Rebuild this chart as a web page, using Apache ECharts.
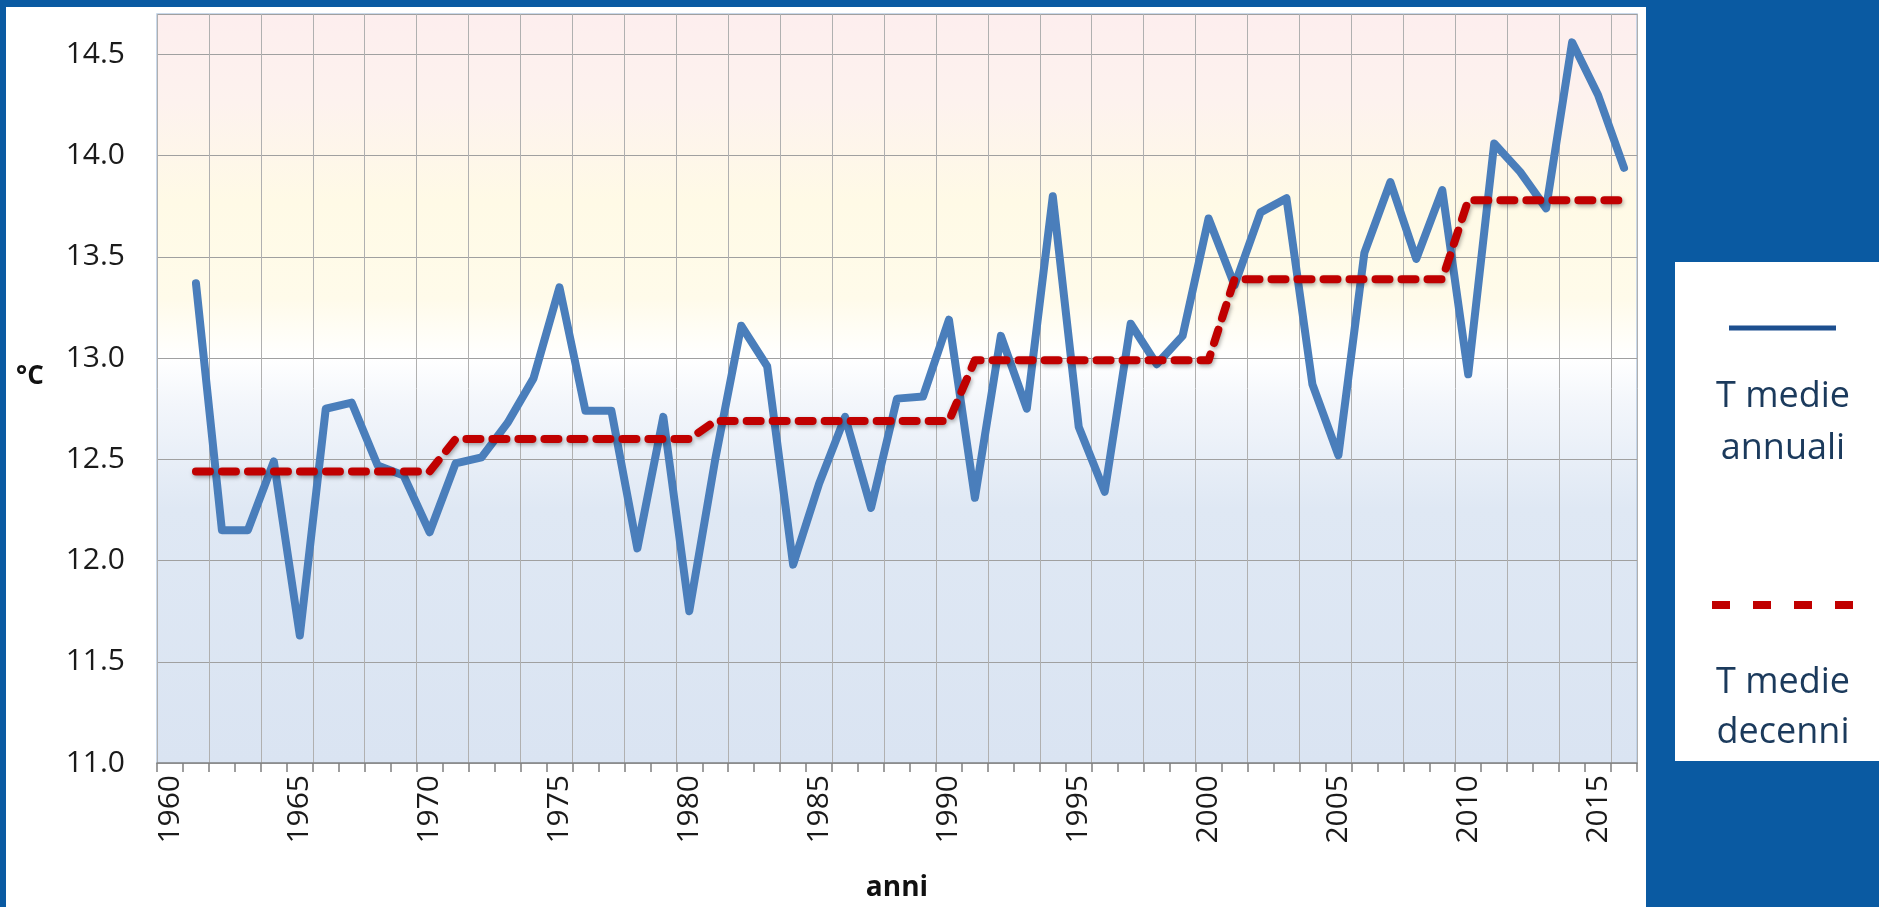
<!DOCTYPE html>
<html>
<head>
<meta charset="utf-8">
<script src="https://cdn.jsdelivr.net/npm/echarts@6/dist/echarts.min.js"></script>
<style>
  html, body { margin: 0; padding: 0; background: #0a5aa2; }
  #chart { width: 1879px; height: 907px; }
</style>
</head>
<body>
<div id="chart"></div>
<script>
// ---- data ----
const years = ['1960','1961','1962','1963','1964','1965','1966','1967','1968','1969',
  '1970','1971','1972','1973','1974','1975','1976','1977','1978','1979',
  '1980','1981','1982','1983','1984','1985','1986','1987','1988','1989',
  '1990','1991','1992','1993','1994','1995','1996','1997','1998','1999',
  '2000','2001','2002','2003','2004','2005','2006','2007','2008','2009',
  '2010','2011','2012','2013','2014','2015','2016'];

const annualMeans = [null,
  13.37, 12.15, 12.15, 12.49, 11.63, 12.75, 12.78, 12.47, 12.42, 12.14,
  12.48, 12.51, 12.68, 12.90, 13.35, 12.74, 12.74, 12.06, 12.71, 11.75,
  12.50, 13.16, 12.96, 11.98, 12.38, 12.71, 12.26, 12.80, 12.81, 13.19,
  12.31, 13.11, 12.75, 13.80, 12.66, 12.34, 13.17, 12.97, 13.11, 13.69,
  13.36, 13.72, 13.79, 12.87, 12.52, 13.52, 13.87, 13.49, 13.83, 12.92,
  14.06, 13.92, 13.74, 14.56, 14.30, 13.94];

const decadeMeans = [null,
  12.44, 12.44, 12.44, 12.44, 12.44, 12.44, 12.44, 12.44, 12.44, 12.44,
  12.60, 12.60, 12.60, 12.60, 12.60, 12.60, 12.60, 12.60, 12.60, 12.60,
  12.69, 12.69, 12.69, 12.69, 12.69, 12.69, 12.69, 12.69, 12.69, 12.69,
  12.99, 12.99, 12.99, 12.99, 12.99, 12.99, 12.99, 12.99, 12.99, 12.99,
  13.39, 13.39, 13.39, 13.39, 13.39, 13.39, 13.39, 13.39, 13.39,
  13.78, 13.78, 13.78, 13.78, 13.78, 13.78, 13.78];

const yTicks = { min: 11.0, max: 14.7, step: 0.5 };
const legendLabels = [['T medie', 'annuali'], ['T medie', 'decenni']];

// ---- chart ----
const chart = echarts.init(document.getElementById('chart'), null, { renderer: 'canvas' });
const FONT = "'Open Sans', 'Noto Sans', sans-serif";

const option = {
  animation: false,
  backgroundColor: '#0a5aa2',
  graphic: [
    { type: 'rect', z: -10, silent: true,
      shape: { x: 6, y: 7, width: 1640, height: 910 },
      style: { fill: '#ffffff' } },
    { type: 'text', left: 16, top: 364,
      style: { text: '°C', font: "bold 26px " + FONT, fill: '#111111' } },
    // legend box
    { type: 'rect', silent: true,
      shape: { x: 1675, y: 262, width: 215, height: 499 },
      style: { fill: '#ffffff' } },
    { type: 'line', shape: { x1: 1729, y1: 328, x2: 1836, y2: 328 },
      style: { stroke: '#1d4f8f', lineWidth: 5 } },
    { type: 'text', x: 1783, y: 397,
      style: { text: legendLabels[0][0], font: "36px " + FONT, fill: '#1b3a5c', align: 'center', verticalAlign: 'middle' } },
    { type: 'text', x: 1783, y: 449,
      style: { text: legendLabels[0][1], font: "36px " + FONT, fill: '#1b3a5c', align: 'center', verticalAlign: 'middle' } },
    { type: 'line', shape: { x1: 1712, y1: 605, x2: 1853, y2: 605 },
      style: { stroke: '#c00000', lineWidth: 8, lineDash: [18, 23] } },
    { type: 'text', x: 1783, y: 683,
      style: { text: legendLabels[1][0], font: "36px " + FONT, fill: '#1b3a5c', align: 'center', verticalAlign: 'middle' } },
    { type: 'text', x: 1783, y: 733,
      style: { text: legendLabels[1][1], font: "36px " + FONT, fill: '#1b3a5c', align: 'center', verticalAlign: 'middle' } }
  ],
  grid: {
    left: 157, top: 14, width: 1480, height: 771,
    show: true,
    borderColor: '#b8cce4', borderWidth: 1.5,
    backgroundColor: new echarts.graphic.LinearGradient(0, 0, 0, 1, [
      { offset: 0.00, color: '#fdeeee' },
      { offset: 0.12, color: '#fdf2ee' },
      { offset: 0.25, color: '#fffae6' },
      { offset: 0.38, color: '#fffbea' },
      { offset: 0.46, color: '#ffffff' },
      { offset: 0.52, color: '#f3f6fb' },
      { offset: 0.66, color: '#dfe8f4' },
      { offset: 1.00, color: '#dae4f2' }
    ])
  },
  xAxis: {
    type: 'category',
    data: years,
    boundaryGap: true,
    name: 'anni',
    nameLocation: 'middle',
    nameGap: 111,
    nameTextStyle: { fontFamily: FONT, fontWeight: 'bold', fontSize: 28, color: '#111111' },
    axisLine: { show: true, lineStyle: { color: '#868686', width: 1.5 } },
    axisTick: { show: true, interval: 0, length: 9, lineStyle: { color: '#7f7f7f', width: 1.5 } },
    axisLabel: { interval: 4, rotate: 90, margin: 12, fontSize: 30, fontFamily: FONT, color: '#1a1a1a' },
    splitLine: { show: true, interval: 1, lineStyle: { color: '#b0b0b0', width: 1 } }
  },
  yAxis: {
    type: 'value',
    min: yTicks.min, max: yTicks.max, interval: yTicks.step,
    axisLine: { show: false },
    axisTick: { show: false },
    axisLabel: {
      showMaxLabel: false,
      margin: 32, fontSize: 30, fontFamily: FONT, color: '#1a1a1a',
      formatter: function (v) {
        if (Math.abs(v * 2 - Math.round(v * 2)) > 1e-6) return '';
        return v.toFixed(1);
      }
    },
    splitLine: { show: true, lineStyle: { color: '#a0a0a0', width: 1 } }
  },
  series: [
    {
      name: 'T medie annuali',
      type: 'line',
      data: annualMeans,
      symbol: 'none',
      z: 2,
      lineStyle: { color: '#4a7ebb', width: 8, cap: 'round', join: 'round' }
    },
    {
      name: 'T medie decenni',
      type: 'line',
      data: decadeMeans,
      symbol: 'none',
      z: 3,
      lineStyle: {
        color: '#c00000', width: 8, type: [14, 12], cap: 'round', join: 'round',
        shadowColor: 'rgba(0,0,0,0.35)', shadowBlur: 4, shadowOffsetX: 1, shadowOffsetY: 2
      }
    }
  ]
};
chart.setOption(option);
</script>
</body>
</html>
